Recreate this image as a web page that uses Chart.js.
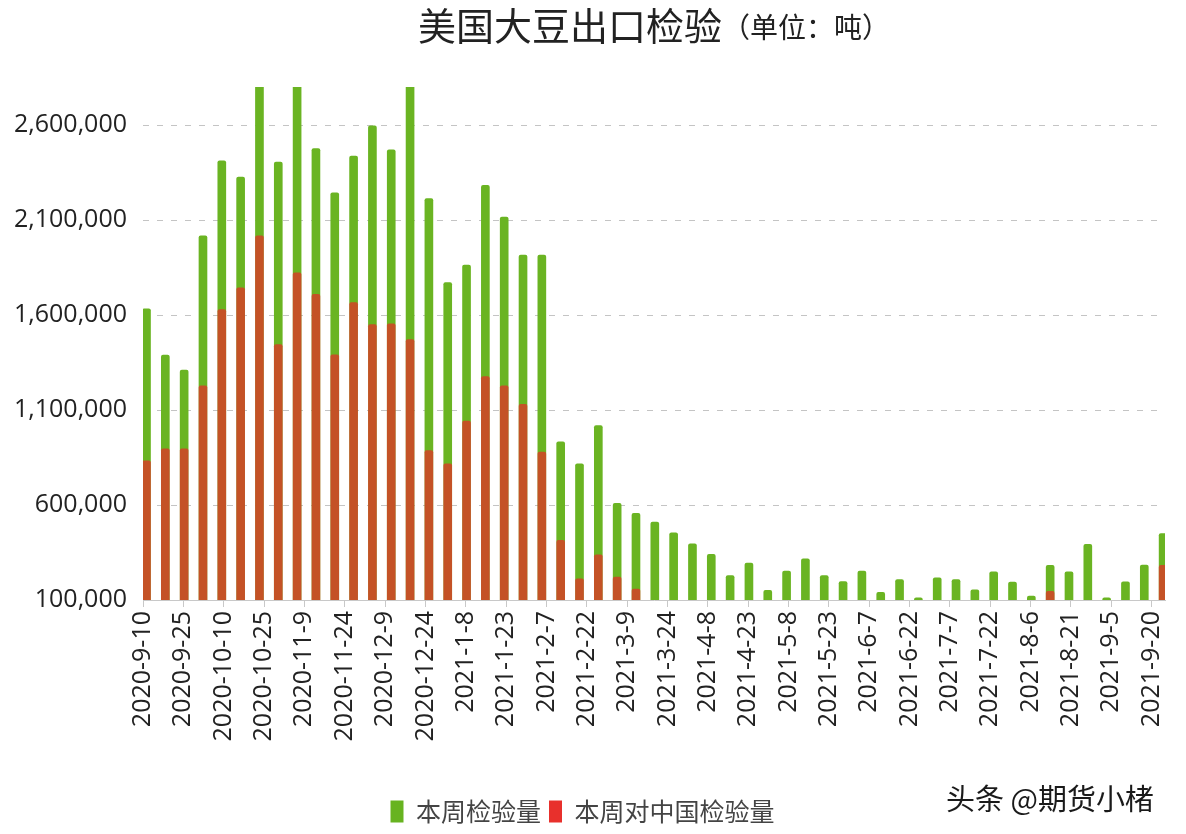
<!DOCTYPE html>
<html>
<head>
<meta charset="utf-8">
<script src="https://cdn.jsdelivr.net/npm/chart.js@4.4.0/dist/chart.umd.min.js"></script>
<style>
  html, body { margin: 0; padding: 0; background: #fff; }
  #wrap { position: relative; width: 1186px; height: 834px; }
  #watermark {
    position: absolute; left: 946px; top: 776px;
    font: 29px "Noto Sans CJK SC"; color: #1a1a1a;
    text-shadow: 0 0 2px #fff, 1px 1px 0 #fff, -1px -1px 0 #fff;
  }
</style>
</head>
<body>
<div id="wrap">
  <canvas id="chart" width="1186" height="834"></canvas>
  <div id="watermark">头条 @期货小楮</div>
</div>
<script>
// weekly inspection dates (week ending)
var weeks = [
  "2020-9-10","2020-9-17","2020-9-24","2020-10-1","2020-10-8","2020-10-15","2020-10-22","2020-10-29",
  "2020-11-5","2020-11-12","2020-11-19","2020-11-26","2020-12-3","2020-12-10","2020-12-17","2020-12-24",
  "2020-12-31","2021-1-7","2021-1-14","2021-1-21","2021-1-28","2021-2-4","2021-2-11","2021-2-18",
  "2021-2-25","2021-3-4","2021-3-11","2021-3-18","2021-3-25","2021-4-1","2021-4-8","2021-4-15",
  "2021-4-22","2021-4-29","2021-5-6","2021-5-13","2021-5-20","2021-5-27","2021-6-3","2021-6-10",
  "2021-6-17","2021-6-24","2021-7-1","2021-7-8","2021-7-15","2021-7-22","2021-7-29","2021-8-5",
  "2021-8-12","2021-8-19","2021-8-26","2021-9-2","2021-9-9","2021-9-16","2021-9-23"
];

// 本周检验量 (tons)
var totalInspected = [
  1633000,1389000,1310000,2017000,2411000,2326000,2920000,2405000,
  2980000,2476000,2243000,2437000,2595000,2469000,2870000,2213000,
  1771000,1863000,2282000,2115000,1916000,1916000,932000,817000,
  1018000,609000,556000,510000,453000,395000,340000,229000,
  294000,151000,252000,317000,229000,197000,252000,141000,
  208000,111000,217000,208000,153000,248000,194000,120000,
  282000,248000,393000,111000,195000,284000,450000
];

// 本周对中国检验量 (tons)
var chinaInspected = [
  833000,895000,895000,1227000,1628000,1743000,2017000,1444000,
  1822000,1709000,1391000,1665000,1550000,1553000,1471000,886000,
  817000,1042000,1276000,1227000,1130000,879000,414000,211000,
  338000,220000,158000,0,0,0,0,0,
  0,0,0,0,0,0,0,0,
  0,0,0,0,0,0,0,0,
  146000,0,0,0,0,0,282000
];

var tickLabels = [
  "2020-9-10","2020-9-25","2020-10-10","2020-10-25","2020-11-9","2020-11-24","2020-12-9","2020-12-24",
  "2021-1-8","2021-1-23","2021-2-7","2021-2-22","2021-3-9","2021-3-24","2021-4-8","2021-4-23",
  "2021-5-8","2021-5-23","2021-6-7","2021-6-22","2021-7-7","2021-7-22","2021-8-6","2021-8-21",
  "2021-9-5","2021-9-20"
];

var yTicks = [100000, 600000, 1100000, 1600000, 2100000, 2600000];

var mainTitle = "美国大豆出口检验";
var unitTitle = "（单位：吨）";
var seriesNames = ["本周检验量", "本周对中国检验量"];
var legendColors = ["#67b320", "#e8302c"];

var base = Date.UTC(2020, 8, 10);
function dayOf(s) {
  var p = s.split("-");
  return (Date.UTC(+p[0], +p[1] - 1, +p[2]) - base) / 86400000;
}
var barShift = 1.3;

function points(values) {
  return values.map(function(v, i) { return { x: dayOf(weeks[i]) + barShift, y: v }; });
}

var fontFamily = '"Open Sans", "Noto Sans CJK SC", sans-serif';

var titlePlugin = {
  id: "titleText",
  afterDraw: function(chart) {
    var ctx = chart.ctx, area = chart.chartArea;
    ctx.save();
    ctx.fillStyle = "#222";
    ctx.textBaseline = "alphabetic";
    ctx.font = '38px "Noto Sans CJK SC"';
    var w1 = ctx.measureText(mainTitle).width;
    ctx.font = '28px "Noto Sans CJK SC"';
    var w2 = ctx.measureText(unitTitle).width;
    var x0 = (area.left + area.right) / 2 - (w1 + w2) / 2;
    ctx.font = '38px "Noto Sans CJK SC"';
    ctx.fillText(mainTitle, x0, 40);
    ctx.font = '28px "Noto Sans CJK SC"';
    ctx.fillText(unitTitle, x0 + w1, 38);
    ctx.restore();
  }
};

var chart = new Chart(document.getElementById("chart"), {
  type: "bar",
  data: {
    datasets: [{
      label: seriesNames[0],
      data: points(totalInspected),
      backgroundColor: "#6ab422",
      order: 1
    }, {
      label: seriesNames[1],
      data: points(chinaInspected),
      backgroundColor: "rgba(232,44,40,0.72)",
      order: 0
    }]
  },
  options: {
    responsive: false,
    animation: false,
    layout: { padding: { top: 87, right: 21, left: 0, bottom: 0 } },
    datasets: {
      bar: { grouped: false, barThickness: 8, borderRadius: { topLeft: 2, topRight: 2 } }
    },
    plugins: {
      tooltip: { enabled: false },
      legend: {
        position: "bottom",
        labels: {
          font: { size: 25, family: '"Noto Sans CJK SC"' },
          color: "#444",
          boxWidth: 13,
          boxHeight: 22,
          padding: 8,
          sort: function(a, b) { return a.datasetIndex - b.datasetIndex; },
          generateLabels: function(chart) {
            var items = Chart.defaults.plugins.legend.labels.generateLabels(chart);
            items.forEach(function(it) {
              it.fillStyle = legendColors[it.datasetIndex];
              it.strokeStyle = legendColors[it.datasetIndex];
              it.lineWidth = 0;
            });
            return items;
          }
        }
      }
    },
    scales: {
      x: {
        type: "linear",
        offset: false,
        min: 0,
        max: 380,
        afterBuildTicks: function(scale) {
          scale.ticks = tickLabels.map(function(t) { return { value: dayOf(t) }; });
        },
        afterFit: function(scale) {
          scale.height = 191;
          scale.paddingLeft = 0;
          scale.paddingRight = 0;
        },
        ticks: {
          autoSkip: false,
          minRotation: 90,
          maxRotation: 90,
          padding: 4,
          color: "#222",
          font: { size: 25, family: fontFamily },
          callback: function(v, i) { return tickLabels[i]; }
        },
        grid: {
          offset: false,
          drawOnChartArea: false,
          drawTicks: true,
          tickLength: 7,
          color: "#c8c8c8"
        },
        border: { display: true, color: "#c8c8c8" }
      },
      y: {
        min: 100000,
        max: 2800000,
        afterBuildTicks: function(scale) {
          scale.ticks = yTicks.map(function(v) { return { value: v }; });
        },
        afterFit: function(scale) { scale.width = 143; },
        ticks: {
          padding: 16,
          color: "#222",
          font: { size: 25, family: fontFamily },
          callback: function(v) { return v.toLocaleString("en-US"); }
        },
        grid: {
          drawTicks: false,
          color: "#c4c4c4"
        },
        border: { display: false, dash: [6, 8] }
      }
    }
  },
  plugins: [titlePlugin]
});
</script>
</body>
</html>
